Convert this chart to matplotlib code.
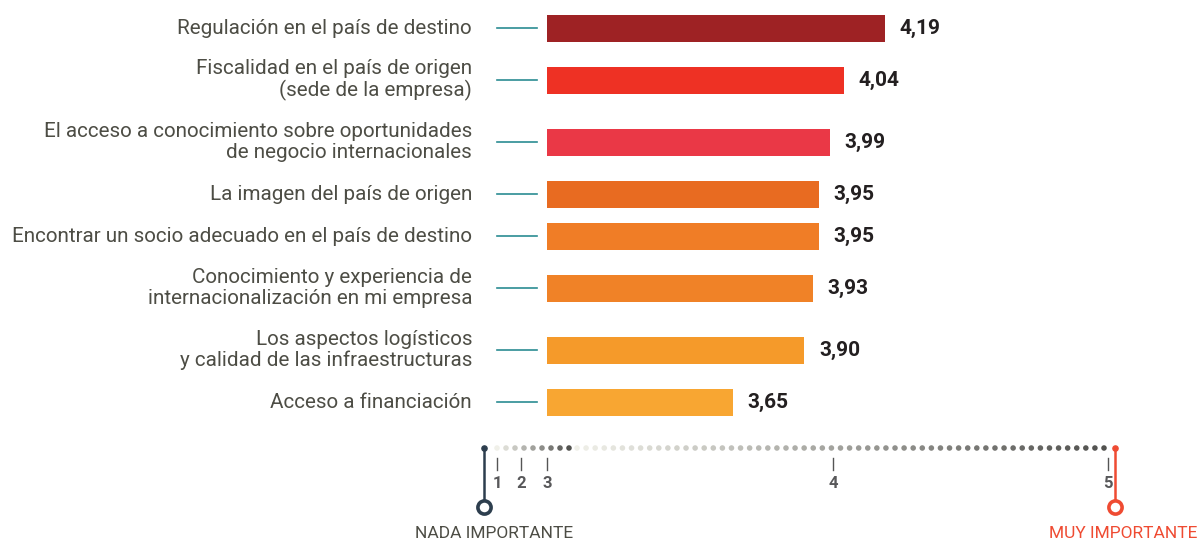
import numpy as np
import matplotlib
matplotlib.use("Agg")
import matplotlib.pyplot as plt
from matplotlib.transforms import blended_transform_factory

# ---- data ----
labels = [
    "Regulación en el país de destino",
    "Fiscalidad en el país de origen\n(sede de la empresa)",
    "El acceso a conocimiento sobre oportunidades\nde negocio internacionales",
    "La imagen del país de origen",
    "Encontrar un socio adecuado en el país de destino",
    "Conocimiento y experiencia de\ninternacionalización en mi empresa",
    "Los aspectos logísticos\ny calidad de las infraestructuras",
    "Acceso a financiación",
]
values = [4.19, 4.04, 3.99, 3.95, 3.95, 3.93, 3.90, 3.65]
value_labels = ["4,19", "4,04", "3,99", "3,95", "3,95", "3,93", "3,90", "3,65"]
colors = ["#9e2224", "#ee3124", "#ea3846", "#e86b21", "#f07d26", "#f08227", "#f59a2a", "#f8a632"]
scale_ticks = [1, 2, 3, 4, 5]
scale_tick_labels = ["1", "2", "3", "4", "5"]
end_labels = ["NADA IMPORTANTE", "MUY IMPORTANTE"]

plt.rcParams['font.family'] = ['Roboto', 'DejaVu Sans']

W, H, DPI = 1200, 542, 100
fig = plt.figure(figsize=(W / DPI, H / DPI), dpi=DPI)

# piecewise scale knots (value -> pixel)
kv = np.array([0.5, 1, 2, 3, 4, 5, 5.25])
kp = np.array([484, 497, 521, 547, 833, 1108, 1115], dtype=float)

def fwd(v):
    return np.interp(v, kv, kp)

def inv(p):
    return np.interp(p, kp, kv)

left_px, right_px = kp[0], kp[-1]
ax = fig.add_axes([left_px / W, 0, (right_px - left_px) / W, 1])
ax.set_xscale('function', functions=(fwd, inv))
ax.set_xlim(kv[0], kv[-1])
ax.set_ylim(H, 0)
ax.axis('off')

# y positions from line counts (layout)
nlines = [l.count("\n") + 1 for l in labels]
ys = [28.0]
for a, b in zip(nlines[:-1], nlines[1:]):
    ys.append(ys[-1] + 42 + 10 * (a - 1) + 10 * (b - 1))

base = 3.0
bt = blended_transform_factory(ax.transAxes, ax.transData)
axw = right_px - left_px
for y, lab, v, vl, c in zip(ys, labels, values, value_labels, colors):
    ax.barh(y, v - base, left=base, height=27, color=c, zorder=2)
    ax.annotate(vl, (v, y), xytext=(10.5, 0), textcoords='offset points',
                ha='left', va='center', fontsize=15, fontweight='bold', color='#231f20')
    ax.text((472 - left_px) / axw, y, lab, transform=bt, ha='right', va='center',
            fontsize=14.9, color='#4d4d45', linespacing=1.08, clip_on=False)
    ax.plot([(497 - left_px) / axw, (537 - left_px) / axw], [y, y], transform=bt,
            color='#2b8c92', lw=1.2, clip_on=False)

# bottom scale (decorative dotted rule)
dot_y = 448
g1 = inv(np.linspace(497, 569, 9))
g2 = inv(np.linspace(577, 1104, 59))
for grp in (g1, g2):
    shades = np.linspace(0.94, 0.32, len(grp))
    ax.scatter(grp, [dot_y] * len(grp), s=16, c=[(s, s, s * 0.97) for s in shades],
               edgecolors='none', zorder=3)

for t, tl in zip(scale_ticks, scale_tick_labels):
    ax.plot([t, t], [458, 470], color='#555555', lw=1)
    ax.text(t, 484, tl, ha='center', va='center', fontsize=12, fontweight='bold',
            color='#58585a')

# left end (dark) and right end (red)
dark, red = '#2d3e4e', '#ef4b32'
for xv, c, lab, lx in ((kv[0], dark, end_labels[0], 494), (kv[-1], red, end_labels[1], 1123)):
    ax.plot([xv, xv], [dot_y, 502], color=c, lw=1.8, zorder=3, clip_on=False)
    ax.scatter([xv], [dot_y], s=14, color=c, zorder=4, clip_on=False)
    ax.scatter([xv], [507], s=90, facecolor='white', edgecolor=c, linewidths=2.6,
               zorder=5, clip_on=False)
    ax.text((lx - left_px) / axw, 533, lab, transform=bt, ha='center', va='center',
            fontsize=12.5, color=(c if c == red else '#4d4d45'), clip_on=False)

fig.savefig("out.png", dpi=DPI)
